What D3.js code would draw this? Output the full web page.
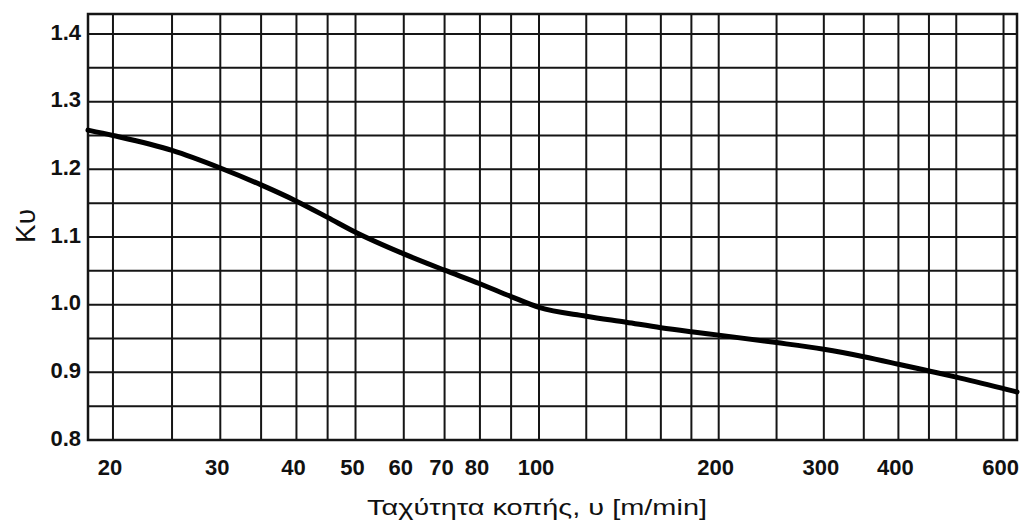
<!DOCTYPE html>
<html>
<head>
<meta charset="utf-8">
<script src="https://cdn.jsdelivr.net/npm/d3@7"></script>
<style>
  body { margin: 0; background: #fff; }
  text { font-family: "Liberation Sans", Arial, sans-serif; fill: #111; }
</style>
</head>
<body>
<script>
// cutting speed v [m/min] and correction factor K_v
const speeds = [18.2, 20, 25, 30, 35, 40, 45, 50, 60, 70, 80, 90, 100, 120, 140, 160, 180, 200, 250, 300, 350, 400, 450, 500, 600, 632]
const kv     = [1.258, 1.250, 1.228, 1.202, 1.177, 1.153, 1.129, 1.107, 1.075, 1.051, 1.031, 1.012, 0.996, 0.983, 0.974, 0.966, 0.960, 0.955, 0.944, 0.934, 0.923, 0.912, 0.902, 0.893, 0.876, 0.871]

const xGrid = [20, 25, 30, 35, 40, 45, 50, 60, 70, 80, 90, 100, 120, 140, 160, 180, 200, 250, 300, 350, 400, 450, 500, 600]
const xTickLabels = [20, 30, 40, 50, 60, 70, 80, 100, 200, 300, 400, 600]
const yGrid = d3.range(0.85, 1.4001, 0.05)
const yTickLabels = [0.8, 0.9, 1.0, 1.1, 1.2, 1.3, 1.4]

const width = 1022, height = 531
const margin = {left: 88, right: 5, top: 14, bottom: 91}

const svg = d3.select("body").append("svg")
  .attr("width", width)
  .attr("height", height)

// log axis, split at 100 so the printed grid lines up
const x = d3.scaleLog()
  .domain([18.2, 100, 632])
  .range([margin.left, 539, width - margin.right])

const y = d3.scaleLinear()
  .domain([0.8, 1.4296])
  .range([height - margin.bottom, margin.top])

const grid = svg.append("g").attr("class", "grid")
  .attr("stroke", "#151515")
  .attr("stroke-width", 2)

grid.selectAll(".vline")
  .data(xGrid)
  .join("line")
  .attr("class", "vline")
  .attr("x1", d => x(d)).attr("x2", d => x(d))
  .attr("y1", y.range()[1]).attr("y2", y.range()[0])

grid.selectAll(".hline")
  .data(yGrid)
  .join("line")
  .attr("class", "hline")
  .attr("x1", x.range()[0]).attr("x2", x.range()[2])
  .attr("y1", d => y(d)).attr("y2", d => y(d))

svg.append("rect")
  .attr("x", x.range()[0])
  .attr("y", y.range()[1])
  .attr("width", x.range()[2] - x.range()[0])
  .attr("height", y.range()[0] - y.range()[1])
  .attr("fill", "none")
  .attr("stroke", "#151515")
  .attr("stroke-width", 2.5)

// the K_v curve
const line = d3.line()
  .x((d, i) => x(speeds[i]))
  .y(d => y(d))
  .curve(d3.curveMonotoneX)

svg.append("path")
  .datum(kv)
  .attr("d", line)
  .attr("fill", "none")
  .attr("stroke", "#000")
  .attr("stroke-width", 5)
  .attr("stroke-linecap", "round")

// tick labels
svg.append("g")
  .selectAll("text")
  .data(xTickLabels)
  .join("text")
  .attr("x", d => x(d) - 3)
  .attr("y", y.range()[0] + 27)
  .attr("dy", "0.35em")
  .attr("text-anchor", "middle")
  .attr("font-size", 22)
  .attr("font-weight", "bold")
  .text(d => d)

svg.append("g")
  .selectAll("text")
  .data(yTickLabels)
  .join("text")
  .attr("x", x.range()[0] - 7)
  .attr("y", d => y(d) - 2)
  .attr("dy", "0.35em")
  .attr("text-anchor", "end")
  .attr("font-size", 22)
  .attr("font-weight", "bold")
  .text(d => d.toFixed(1))

// axis titles
svg.append("text")
  .attr("x", 537)
  .attr("y", 515)
  .attr("text-anchor", "middle")
  .attr("font-size", 22)
  .attr("textLength", 340)
  .attr("lengthAdjust", "spacingAndGlyphs")
  .text("Ταχύτητα κοπής, υ [m/min]")

svg.append("text")
  .attr("transform", "translate(35,226) rotate(-90)")
  .attr("text-anchor", "middle")
  .attr("font-size", 28)
  .text("Kυ")
</script>
</body>
</html>
